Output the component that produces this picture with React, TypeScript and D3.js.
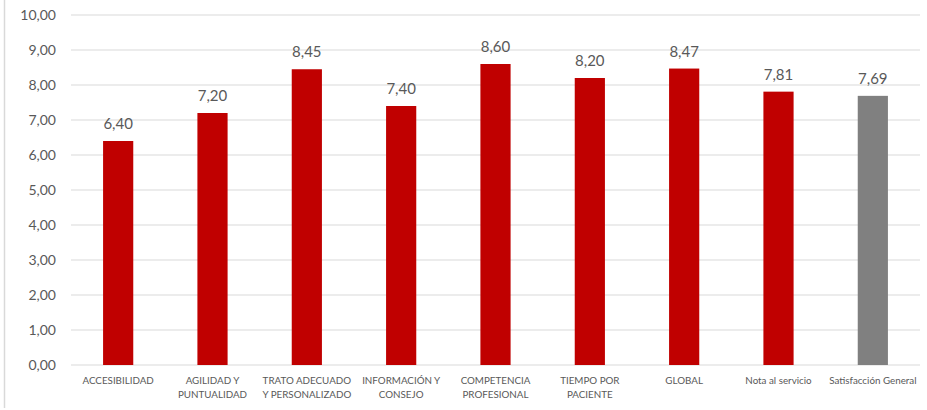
import React from "react";
import * as d3 from "d3";

const categories: string[][] = [
  ["ACCESIBILIDAD"],
  ["AGILIDAD Y", "PUNTUALIDAD"],
  ["TRATO ADECUADO", "Y PERSONALIZADO"],
  ["INFORMACIÓN Y", "CONSEJO"],
  ["COMPETENCIA", "PROFESIONAL"],
  ["TIEMPO POR", "PACIENTE"],
  ["GLOBAL"],
  ["Nota al servicio"],
  ["Satisfacción General"],
];
const values: number[] = [6.4, 7.2, 8.45, 7.4, 8.6, 8.2, 8.47, 7.81, 7.69];
const barColors: string[] = ["#C00000", "#C00000", "#C00000", "#C00000", "#C00000", "#C00000", "#C00000", "#C00000", "#808080"];
const yTicks: number[] = [0, 1, 2, 3, 4, 5, 6, 7, 8, 9, 10];

const W = 927;
const H = 410;
const plot = { left: 71, right: 920, top: 15, bottom: 365 };

const fmt = (v: number) => v.toFixed(2).replace(".", ",");

export default function App() {
  const x = d3
    .scaleBand<number>()
    .domain(d3.range(values.length))
    .range([plot.left, plot.right])
    .paddingInner(0.68)
    .paddingOuter(0.34);
  const y = d3.scaleLinear().domain([0, 10]).range([plot.bottom, plot.top]);
  const font = "Lato, 'Open Sans', sans-serif";
  const text = "#595959";

  return (
    <svg
      width={W}
      height={H}
      style={{ position: "absolute", left: 0, top: 0, background: "#fff" }}
      fontFamily={font}
    >
      <line x1={4.5} x2={4.5} y1={0} y2={408} stroke="#d9d9d9" strokeWidth={1.5} />
      {yTicks.map((t) => (
        <g key={t}>
          <line
            x1={plot.left}
            x2={plot.right}
            y1={y(t)}
            y2={y(t)}
            stroke="#d9d9d9"
            strokeWidth={1.2}
          />
          <text x={56} y={y(t)} dy="0.35em" textAnchor="end" fontSize={14} fill={text}>
            {fmt(t)}
          </text>
        </g>
      ))}
      {values.map((v, i) => {
        const bx = x(i)!;
        const cx = bx + x.bandwidth() / 2;
        return (
          <g key={i}>
            <rect
              x={bx}
              y={y(v)}
              width={x.bandwidth()}
              height={y(0) - y(v)}
              fill={barColors[i]}
            />
            <text x={cx} y={y(v) - 12} textAnchor="middle" fontSize={15} fill={text}>
              {fmt(v)}
            </text>
            {categories[i].map((line, j) => (
              <text
                key={j}
                x={cx}
                y={384 + j * 14}
                textAnchor="middle"
                fontSize={9.8}
                fill={text}
              >
                {line}
              </text>
            ))}
          </g>
        );
      })}
    </svg>
  );
}
